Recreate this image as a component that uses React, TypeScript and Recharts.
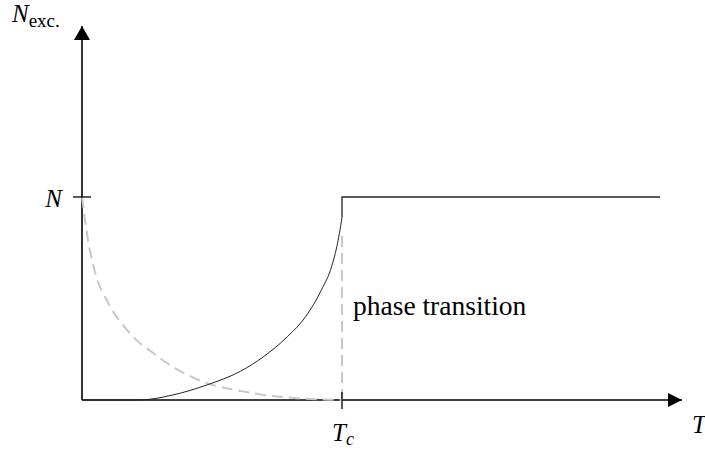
import React from 'react';
import { LineChart, Line, XAxis, YAxis, ReferenceDot, ReferenceLine } from 'recharts';

// T / Tc on x, N_exc / N on y
const excitedT = [0, 0.22, 0.35, 0.48, 0.61, 0.7, 0.79, 0.86, 0.92, 0.96, 0.98, 0.99, 1];
const excitedN = [0, 0, 0.025, 0.074, 0.142, 0.215, 0.312, 0.41, 0.54, 0.657, 0.755, 0.82, 0.9];

const plateauT = [1, 1, 2.223];
const plateauN = [0.9, 1, 1];

const condensateT = [0, 0.023, 0.05, 0.1, 0.177, 0.223, 0.254, 0.35, 0.48, 0.608, 0.7, 0.86, 1];
const condensateN = [1, 0.79, 0.63, 0.48, 0.34, 0.28, 0.25, 0.163, 0.083, 0.045, 0.025, 0.006, 0];

const transitionT = [1, 1];
const transitionN = [0, 0.81];

const tickT = 1;
const tickN = 1;
const xMax = 2.3077;
const yMax = 1.8424;

const zip = (xs: number[], ys: number[]) => xs.map((x, i) => ({ x, y: ys[i] }));

const serif = {
    fontFamily: '"Times New Roman", Times, Tinos, "Liberation Serif", "Noto Serif", "DejaVu Serif", FreeSerif, serif',
};

export default function App() {
    return (
        <div style={{ position: 'fixed', left: 0, top: 0, width: 705, height: 450, background: '#fff' }}>
            <LineChart
                width={705}
                height={450}
                margin={{ top: 26, right: 23, bottom: 50, left: 82 }}
            >
                <XAxis type="number" dataKey="x" domain={[0, xMax]} height={0} hide />
                <YAxis type="number" dataKey="y" domain={[0, yMax]} width={0} hide />

                {/* axes */}
                <ReferenceLine y={0} stroke="#000" strokeWidth={1.6} ifOverflow="visible" />
                <ReferenceLine x={0} stroke="#000" strokeWidth={1.6} ifOverflow="visible" />

                <Line
                    data={zip(condensateT, condensateN)}
                    dataKey="y"
                    type="monotone"
                    stroke="#c8c8c8"
                    strokeWidth={2}
                    strokeDasharray="11 6"
                    dot={false}
                    isAnimationActive={false}
                />
                <Line
                    data={zip(transitionT, transitionN)}
                    dataKey="y"
                    type="linear"
                    stroke="#c8c8c8"
                    strokeWidth={2}
                    strokeDasharray="11 6"
                    dot={false}
                    isAnimationActive={false}
                />
                <Line
                    data={zip(excitedT, excitedN)}
                    dataKey="y"
                    type="monotone"
                    stroke="#222"
                    strokeWidth={1}
                    dot={false}
                    isAnimationActive={false}
                />
                <Line
                    data={zip(plateauT, plateauN)}
                    dataKey="y"
                    type="linear"
                    stroke="#222"
                    strokeWidth={1.3}
                    dot={false}
                    isAnimationActive={false}
                />

                {/* arrow heads + axis titles */}
                <ReferenceDot
                    x={xMax}
                    y={0}
                    ifOverflow="visible"
                    shape={(p: any) => (
                        <g>
                            <path d={`M${p.cx},${p.cy} L${p.cx - 14},${p.cy - 7} L${p.cx - 14},${p.cy + 7} Z`} fill="#000" />
                            <text x={p.cx + 10} y={p.cy + 33} style={serif} fontStyle="italic" fontSize={25}>T</text>
                        </g>
                    )}
                />
                <ReferenceDot
                    x={0}
                    y={yMax}
                    ifOverflow="visible"
                    shape={(p: any) => (
                        <g>
                            <path d={`M${p.cx},${p.cy} L${p.cx - 8},${p.cy + 14} L${p.cx + 8},${p.cy + 14} Z`} fill="#000" />
                            <text x={p.cx - 70} y={p.cy - 4} style={serif} fontSize={25}>
                                <tspan fontStyle="italic">N</tspan>
                                <tspan fontSize={19} dy={5}>exc.</tspan>
                            </text>
                        </g>
                    )}
                />

                {/* ticks */}
                <ReferenceDot
                    x={tickT}
                    y={0}
                    ifOverflow="visible"
                    shape={(p: any) => (
                        <g>
                            <line x1={p.cx} x2={p.cx} y1={p.cy - 8} y2={p.cy + 9} stroke="#000" strokeWidth={1.3} />
                            <text x={p.cx - 10} y={p.cy + 41} style={serif} fontSize={25}>
                                <tspan fontStyle="italic">T</tspan>
                                <tspan fontStyle="italic" fontSize={18} dy={4}>c</tspan>
                            </text>
                        </g>
                    )}
                />
                <ReferenceDot
                    x={0}
                    y={tickN}
                    ifOverflow="visible"
                    shape={(p: any) => (
                        <g>
                            <line x1={p.cx - 9} x2={p.cx + 9} y1={p.cy} y2={p.cy} stroke="#000" strokeWidth={1.3} />
                            <text x={p.cx - 20} y={p.cy + 10} textAnchor="end" style={serif} fontStyle="italic" fontSize={25}>N</text>
                        </g>
                    )}
                />

                <ReferenceDot
                    x={tickT}
                    y={0.42}
                    ifOverflow="visible"
                    shape={(p: any) => (
                        <text x={p.cx + 11} y={p.cy} style={serif} fontSize={27.5}>phase transition</text>
                    )}
                />
            </LineChart>
        </div>
    );
}
